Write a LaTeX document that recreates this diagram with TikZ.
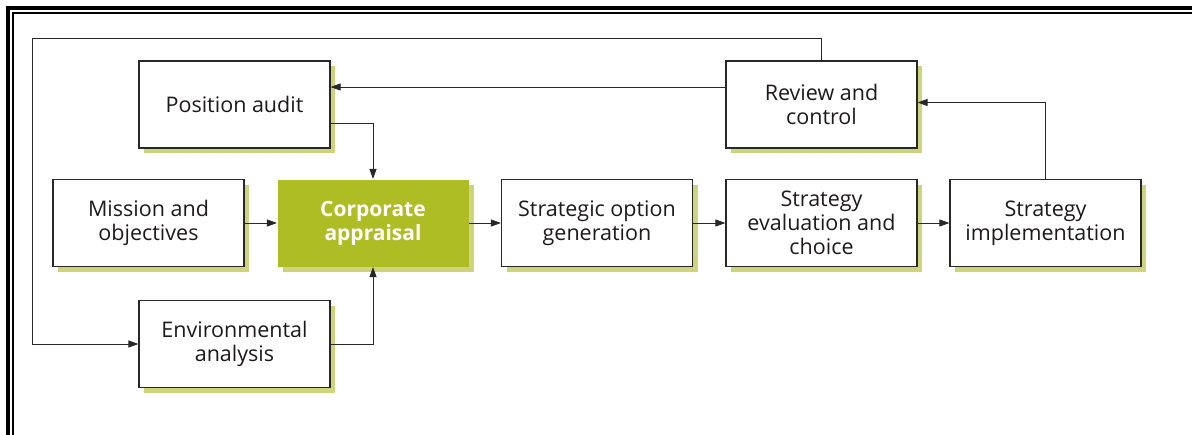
\documentclass[tikz,border=0pt]{standalone}
\usepackage{fontspec}
\setmainfont{Open Sans}
\usetikzlibrary{arrows.meta,shadows}
\definecolor{greenfill}{RGB}{174,189,36}
\definecolor{shadowc}{RGB}{205,212,124}
\definecolor{linec}{RGB}{40,40,40}
\definecolor{textc}{RGB}{30,26,27}
\tikzset{
  box/.style={draw=linec, line width=1.1pt, fill=white, minimum width=191pt, minimum height=87pt,
    align=center, text=textc, inner sep=0pt,
    font=\fontsize{21.5}{24}\selectfont,
    general shadow={fill=shadowc, shadow xshift=5pt, shadow yshift=-5pt}},
  greenbox/.style={box, draw=none, fill=greenfill, text=white, font=\fontsize{21}{24}\selectfont\bfseries},
  conn/.style={draw=linec, line width=0.9pt},
  arr/.style={conn, -{Triangle[length=10pt,width=7pt]}},
  bthick/.style={draw=black, line width=3.6pt},
  bthin/.style={draw=black, line width=1.8pt}
}
\begin{document}
\begin{tikzpicture}[x=1pt,y=-1pt]
\useasboundingbox (0,0) rectangle (1192,434);
\fill[white] (0,0) rectangle (1192,434);
% frame
\coordinate (fa) at (8,440);
\coordinate (fb) at (8,7.7);
\coordinate (fc) at (1200,7.7);
\coordinate (ga) at (13,440);
\coordinate (gb) at (13,12.7);
\coordinate (gc) at (1200,12.7);
\draw[bthick] (fa) -- (fb) -- (fc);
\draw[bthin] (ga) -- (gb) -- (gc);
% nodes
\node[box] (pos) at (234.5,104.5) {Position audit};
\node[box] (rev) at (821.5,104.5) {Review and\\control};
\node[box] (mis) at (148.5,223) {Mission and\\objectives};
\node[greenbox] (cor) at (373,223) {Corporate\\appraisal};
\node[box] (opt) at (597,223) {Strategic option\\generation};
\node[box] (eva) at (821.5,223) {Strategy\\evaluation and\\choice};
\node[box] (imp) at (1045.5,223) {Strategy\\implementation};
\node[box] (env) at (234.5,344) {Environmental\\analysis};
% connectors
\coordinate (loop) at (32,38.5);
\draw[arr] (rev.north) |- (loop) |- (env.west);
\draw[arr] ([yshift=17.5pt]rev.west) -- ([yshift=17.5pt]pos.east);
\draw[arr] ([yshift=-18.5pt]pos.east) -| (cor.north);
\draw[arr] (env.east) -| (cor.south);
\draw[arr] (mis.east) -- (cor.west);
\draw[arr] (cor.east) -- (opt.west);
\draw[arr] (opt.east) -- (eva.west);
\draw[arr] (eva.east) -- (imp.west);
\draw[arr] (imp.north) |- ([yshift=2pt]rev.east);
\end{tikzpicture}
\end{document}
